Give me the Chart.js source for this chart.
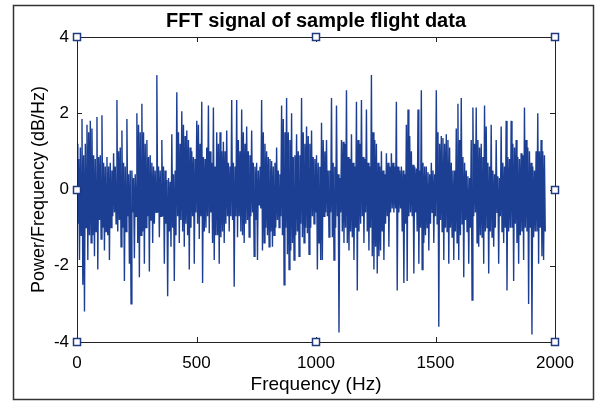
<!DOCTYPE html>
<html>
<head>
<meta charset="utf-8">
<script src="https://cdn.jsdelivr.net/npm/chart.js@4/dist/chart.umd.min.js"></script>
<style>
html, body { margin: 0; padding: 0; background: #fff; }
</style>
</head>
<body>
<canvas id="fftChart" width="600" height="403"></canvas>
<script>
const chartTitle = 'FFT signal of sample flight data';
const xTitle = 'Frequency (Hz)';
const yTitle = 'Power/Frequency (dB/Hz)';
const xTicks = [0, 500, 1000, 1500, 2000];
const yTicks = [-4, -2, 0, 2, 4];
const binWidth = 3.48; // Hz between samples

// values, left to right
const power = [
  1.2,-0.9,0.8,-1.85,1.1,-1.2,  1.85,-2.5,0.9,-3.2,1.2,-1.0,
  1.7,-1.85,1.5,-1.2,1.8,-1.4,  1.6,-1.2,0.9,-1.75,0.8,-1.1,
  1.9,-2.1,0.85,-0.8,0.9,-1.3,  1.95,-1.0,0.7,-1.6,0.6,-1.1,
  0.85,-1.2,0.6,-1.85,0.7,-1.0,  0.5,-0.7,0.95,-0.6,0.6,-0.9,
  2.35,-1.1,1.0,-0.8,1.1,-1.5,  1.55,-1.0,0.7,-2.4,0.6,-1.1,
  1.85,-0.7,0.4,-1.95,0.5,-3.0,  0.5,-0.6,0.3,-1.8,0.4,-0.7,
  2.0,-1.4,1.7,-2.3,1.5,-1.2,  2.25,-1.1,1.5,-1.95,1.2,-1.0,
  1.3,-0.7,0.85,-2.15,0.9,-0.8,  0.7,-1.4,0.6,-0.9,0.5,-0.6,
  3.0,-0.6,0.6,-1.25,0.5,-0.7,  1.3,-0.7,0.6,-1.95,0.5,-0.9,
  0.25,-2.8,0.3,-1.1,0.2,-1.5,  1.45,-1.0,0.4,-2.4,0.5,-1.2,
  2.55,-0.7,1.5,-1.4,1.2,-0.8,  2.05,-1.1,1.7,-1.5,1.4,-0.9,
  1.55,-1.2,1.3,-2.1,1.1,-1.0,  1.0,-0.7,0.85,-1.95,0.8,-0.6,
  1.8,-0.9,1.7,-1.3,1.2,-0.7,  2.3,-2.45,0.85,-1.1,0.8,-1.0,
  1.1,-0.7,2.2,-1.15,1.0,-0.6,  0.7,-1.4,2.15,-1.85,0.6,-1.2,
  1.5,-1.2,1.2,-1.95,1.5,-1.25,  1.0,-1.1,1.25,-1.4,1.0,-0.9,
  1.55,-0.7,0.7,-1.1,0.6,-0.7,  2.35,-0.8,0.7,-2.55,0.6,-0.7,
  2.35,-1.25,1.3,-0.7,1.0,-1.1,  2.1,-1.2,1.5,-1.4,1.2,-0.9,
  1.65,-0.8,1.0,-1.25,0.9,-0.7,  1.55,-0.6,0.7,-1.75,0.6,-0.8,
  0.7,-1.85,0.5,-0.4,0.6,-0.5,  2.35,-1.6,1.5,-1.4,1.2,-1.0,
  1.0,-1.2,0.85,-1.5,0.8,-1.1,  0.75,-1.5,0.6,-1.2,0.7,-1.0,
  1.1,-0.8,0.5,-1.0,0.4,-0.7,  2.2,-1.2,1.85,-2.5,1.5,-1.0,
  2.4,-1.7,1.5,-2.1,1.3,-1.6,  2.0,-1.4,0.85,-1.85,0.9,-1.2,
  1.45,-1.1,1.0,-1.75,0.9,-0.9,  2.4,-1.25,1.5,-1.4,1.2,-1.0,
  1.65,-1.15,1.4,-1.7,1.2,-1.0,  1.55,-0.7,0.85,-0.9,0.8,-0.6,
  0.9,-2.1,0.7,-1.4,0.6,-1.85,  1.75,-1.85,1.3,-0.7,1.0,-0.6,
  1.3,-0.7,0.5,-1.25,0.5,-0.6,  2.4,-1.25,0.7,-1.85,0.6,-1.0,
  2.2,-0.7,0.4,-3.75,0.3,-0.6,  1.3,-1.1,1.25,-1.4,1.2,-1.0,
  2.6,-1.4,0.85,-1.6,0.8,-1.1,  1.45,-1.25,0.7,-1.85,0.6,-1.0,
  2.3,-2.65,1.3,-1.1,1.2,-0.9,  2.35,-0.7,0.85,-1.4,0.8,-0.6,
  2.1,-1.1,0.7,-1.6,0.6,-1.0,  3.0,-1.75,1.5,-2.1,1.3,-1.5,
  1.2,-2.2,0.7,-1.75,0.6,-1.6,  1.0,-1.1,0.5,-1.85,0.4,-0.9,
  0.95,-0.7,0.7,-1.5,0.6,-0.6,  0.95,-0.5,0.7,-0.6,0.6,-0.5,
  2.3,-2.65,0.6,-0.6,0.5,-0.5,  0.6,-1.1,0.5,-2.45,0.4,-0.9,
  1.7,-2.4,2.1,-0.7,1.4,-0.6,  1.0,-0.7,0.65,-2.2,0.6,-0.6,
  0.55,-1.1,2.1,-1.95,0.5,-1.0,  2.6,-2.1,0.7,-1.4,0.6,-1.2,
  0.6,-1.0,0.45,-1.6,0.4,-0.9,  0.7,-0.6,0.5,-1.4,0.4,-0.7,
  2.6,-0.9,1.5,-3.6,1.2,-0.8,  1.4,-1.1,1.35,-1.85,1.2,-1.0,
  1.45,-1.1,1.3,-1.95,1.1,-1.0,  0.7,-1.25,0.5,-1.85,0.5,-1.1,
  1.6,-1.4,2.25,-1.85,1.3,-1.2,  2.4,-0.9,0.85,-2.3,0.7,-0.8,
  0.5,-1.1,0.35,-1.95,0.3,-1.0,  1.3,-2.9,2.15,-0.7,1.2,-0.6,
  2.15,-1.4,1.3,-1.5,1.1,-1.2,  1.2,-1.25,0.85,-1.95,2.2,-1.1,
  1.65,-1.0,0.7,-2.2,0.6,-1.1,  1.7,-1.25,0.5,-1.5,0.4,-1.0,
  1.3,-0.6,0.35,-1.95,0.3,-0.7,  1.65,-1.1,0.7,-1.4,0.6,-1.0,
  1.8,-2.65,0.85,-1.1,0.8,-1.0,  1.8,-1.0,1.2,-2.4,1.1,-0.9,
  1.3,-1.4,0.85,-1.95,0.8,-1.2,  0.95,-1.1,0.9,-1.85,2.15,-1.0,
  1.3,-1.1,1.1,-3.0,1.0,-1.0,  0.7,-3.8,0.6,-1.25,0.5,-1.1,
  1.0,-1.1,2.0,-1.95,1.0,-1.0,  1.3,-1.75,1.0,-1.85,0.9,-1.1
];

// edit handles on the axes box
const handleX = [0, 1000, 2000, 2000, 2000, 1000, 0, 0];
const handleY = [4, 4, 4, 0, -4, -4, -4, 0];

const fontFamily = '"Liberation Sans", Arial, sans-serif';
const lineColor = '#1c3f94';

const points = power.map((v, i) => ({ x: i * binWidth, y: v }));

const axesBox = {
    id: 'axesBox',
    beforeDraw(chart) {
        const c = chart.ctx;
        c.save();
        c.fillStyle = '#fff';
        c.fillRect(0, 0, chart.width, chart.height);
        c.strokeStyle = '#333';
        c.lineWidth = 1.5;
        c.strokeRect(13.5, 5.5, 580, 394);
        c.restore();
    },
    afterDatasetsDraw(chart) {
        const c = chart.ctx;
        const a = chart.chartArea;
        const sx = chart.scales.x, sy = chart.scales.y;
        c.save();
        c.strokeStyle = '#222';
        c.lineWidth = 1;
        c.strokeRect(Math.round(a.left) + 0.5, Math.round(a.top) + 0.5,
                     Math.round(a.right - a.left), Math.round(a.bottom - a.top));
        c.beginPath();
        xTicks.forEach(v => {
            const px = Math.round(sx.getPixelForValue(v)) + 0.5;
            c.moveTo(px, a.bottom); c.lineTo(px, a.bottom - 5);
            c.moveTo(px, a.top); c.lineTo(px, a.top + 5);
        });
        yTicks.forEach(v => {
            const py = Math.round(sy.getPixelForValue(v)) + 0.5;
            c.moveTo(a.left, py); c.lineTo(a.left + 5, py);
            c.moveTo(a.right, py); c.lineTo(a.right - 5, py);
        });
        c.stroke();

        c.fillStyle = '#fff';
        c.strokeStyle = '#1f3a80';
        c.lineWidth = 1.5;
        handleX.forEach((hx, i) => {
            const px = Math.round(sx.getPixelForValue(hx));
            const py = Math.round(sy.getPixelForValue(handleY[i]));
            c.fillRect(px - 3.5, py - 3.5, 7, 7);
            c.strokeRect(px - 3.5, py - 3.5, 7, 7);
        });

        c.fillStyle = '#000';
        c.textAlign = 'center';
        c.textBaseline = 'alphabetic';
        c.font = 'bold 20px ' + fontFamily;
        const cx = (a.left + a.right) / 2;
        c.fillText(chartTitle, cx, 27);
        c.font = '19px ' + fontFamily;
        c.fillText(xTitle, cx, 390);
        c.font = '18px ' + fontFamily;
        c.translate(44, (a.top + a.bottom) / 2);
        c.rotate(-Math.PI / 2);
        c.fillText(yTitle, 0, 0);
        c.restore();
    }
};

new Chart(document.getElementById('fftChart'), {
    type: 'line',
    data: {
        datasets: [{
            data: points,
            borderColor: lineColor,
            borderWidth: 1.4,
            pointRadius: 0,
            tension: 0,
            fill: false
        }]
    },
    options: {
        responsive: false,
        animation: false,
        layout: { padding: { left: 12, right: 45, top: 37, bottom: 11 } },
        plugins: { legend: { display: false }, tooltip: { enabled: false } },
        scales: {
            x: {
                type: 'linear',
                min: 0,
                max: 2000,
                afterBuildTicks: s => { s.ticks = xTicks.map(v => ({ value: v })); },
                afterFit: s => { s.height = 50; },
                grid: { display: false, drawTicks: false },
                border: { display: false },
                ticks: {
                    color: '#000', padding: 11, maxRotation: 0,
                    font: { family: fontFamily, size: 17 },
                    callback: v => String(v)
                }
            },
            y: {
                min: -4,
                max: 4,
                afterBuildTicks: s => { s.ticks = yTicks.map(v => ({ value: v })); },
                afterFit: s => { s.width = 65; },
                grid: { display: false, drawTicks: false },
                border: { display: false },
                ticks: {
                    color: '#000', padding: 8,
                    font: { family: fontFamily, size: 17 },
                    callback: v => String(v)
                }
            }
        }
    },
    plugins: [axesBox]
});
</script>
</body>
</html>
